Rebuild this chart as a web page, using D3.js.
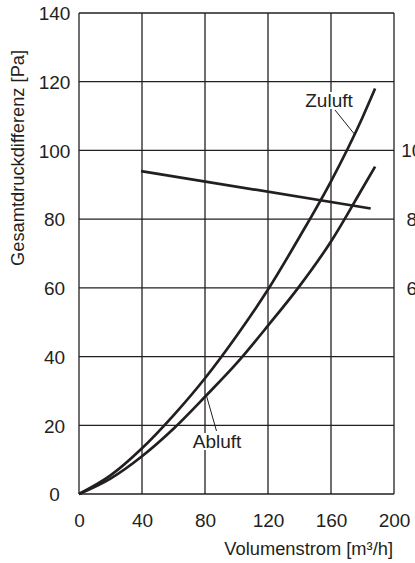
<!DOCTYPE html>
<html><head><meta charset="utf-8">
<script src="https://cdn.jsdelivr.net/npm/d3@7"></script>
<style>html,body{margin:0;padding:0;background:#fff;overflow:hidden}svg{display:block}</style>
</head><body>
<svg id="c" width="415" height="563"></svg>
<script>
const xTicks = [0, 40, 80, 120, 160, 200];
const yTicks = [0, 20, 40, 60, 80, 100, 120, 140];
const neighborTicks = [100, 80, 60];
const flowX = [0, 20, 40, 60, 80, 100, 120, 140, 160, 180, 188];
const zuluftY = [0, 5.4, 13.3, 22.9, 33.7, 46, 59.5, 74.8, 91, 109.6, 118];
const abluftY = [0, 4.5, 11, 19, 28.3, 38, 49, 60.5, 73.5, 89, 95.3];
const lineX = [39.4, 185.2];
const lineY = [94, 83.1];
const xTitle = "Volumenstrom [m³/h]";
const yTitle = "Gesamtdruckdifferenz [Pa]";

const svg = d3.select("#c");
const L = 79, R = 394, T = 13, B = 494;
const x = d3.scaleLinear().domain([0, 200]).range([L, R]);
const y = d3.scaleLinear().domain([0, 140]).range([B, T]);
const ink = "#231f20";
const font = "'Liberation Sans', Arial, sans-serif";
const fsTick = 19, fsTitle = 18.3;

// grid
svg.append("g").selectAll("line").data(xTicks).join("line")
  .attr("x1", d => x(d)).attr("x2", d => x(d)).attr("y1", T).attr("y2", B)
  .attr("stroke", ink).attr("stroke-width", 1.3);
svg.append("g").selectAll("line").data(yTicks).join("line")
  .attr("x1", L).attr("x2", R).attr("y1", d => y(d)).attr("y2", d => y(d))
  .attr("stroke", ink).attr("stroke-width", 1.3);

// axis labels via d3 axes (no lines)
const yAx = svg.append("g").attr("transform", `translate(${L},0)`)
  .call(d3.axisLeft(y).tickValues(yTicks).tickSize(0).tickPadding(0));
yAx.select(".domain").remove();
yAx.selectAll("text").attr("x", -24.5).attr("text-anchor", "middle")
  .attr("font-size", fsTick).attr("font-family", font).attr("fill", ink).attr("dy", "0.36em");

const xAx = svg.append("g").attr("transform", `translate(0,${B})`)
  .call(d3.axisBottom(x).tickValues(xTicks).tickSize(0).tickPadding(0));
xAx.select(".domain").remove();
xAx.selectAll("text").attr("y", 33).attr("dy", 0)
  .attr("font-size", fsTick).attr("font-family", font).attr("fill", ink);

// neighbour chart's partial labels (cut off at the edge, as in the reference)
svg.append("g").selectAll("text").data(neighborTicks).join("text")
  .attr("x", 417).attr("y", d => y(d)).attr("dy", "0.36em").attr("text-anchor", "middle")
  .attr("font-size", fsTick).attr("font-family", font).attr("fill", ink).text(d => d);

// titles
svg.append("text").attr("x", R - 1).attr("y", 555).attr("text-anchor", "end")
  .attr("font-size", fsTitle).attr("font-family", font).attr("fill", ink).text(xTitle);
svg.append("text").attr("transform", `translate(24,266) rotate(-90)`)
  .attr("text-anchor", "start")
  .attr("font-size", fsTitle).attr("font-family", font).attr("fill", ink).text(yTitle);

// curves
const curve = d3.line().x(d => x(d[0])).y(d => y(d[1])).curve(d3.curveMonotoneX);
svg.append("path").datum(flowX.map((v, i) => [v, zuluftY[i]])).attr("d", curve)
  .attr("fill", "none").attr("stroke", ink).attr("stroke-width", 2.7);
svg.append("path").datum(flowX.map((v, i) => [v, abluftY[i]])).attr("d", curve)
  .attr("fill", "none").attr("stroke", ink).attr("stroke-width", 2.7);
svg.append("path").datum(lineX.map((v, i) => [v, lineY[i]])).attr("d", d3.line().x(d => x(d[0])).y(d => y(d[1])))
  .attr("fill", "none").attr("stroke", ink).attr("stroke-width", 2.7);

// annotations
function label(txt, tx, ty, ax, ay, lx, ly) {
  const t = svg.append("text").attr("x", tx).attr("y", ty).attr("text-anchor", "middle")
    .attr("font-size", fsTick).attr("font-family", font).attr("fill", ink).text(txt);
  const bb = t.node().getBBox();
  svg.insert("rect", () => t.node()).attr("x", bb.x - 1).attr("y", bb.y + 2)
    .attr("width", bb.width + 2).attr("height", bb.height - 4).attr("fill", "#fff");
  svg.append("line").attr("x1", lx).attr("y1", ly).attr("x2", ax).attr("y2", ay)
    .attr("stroke", ink).attr("stroke-width", 1);
}
label("Zuluft", 329, 107, x(175.3), y(104.5), 335, 110);
label("Abluft", 217, 448, x(81), y(28.5), 216.5, 431);
</script>
</body></html>
